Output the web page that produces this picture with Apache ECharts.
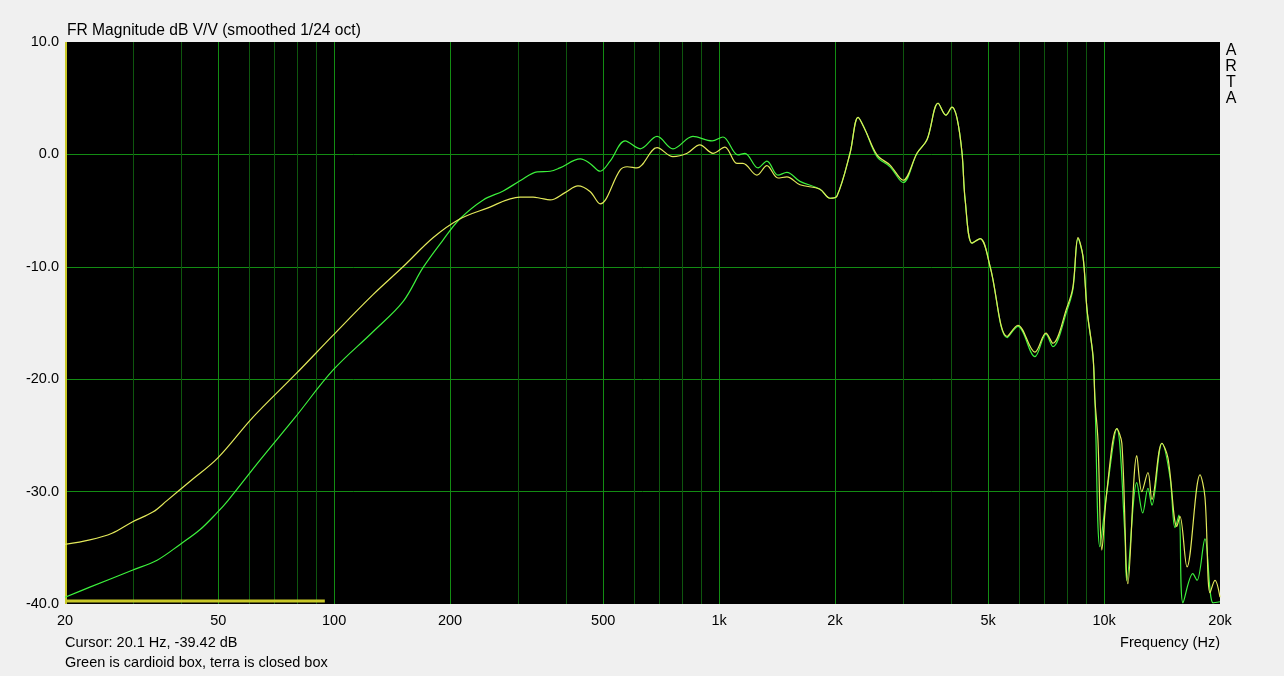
<!DOCTYPE html>
<html>
<head>
<meta charset="utf-8">
<script src="https://cdn.jsdelivr.net/npm/echarts@6/dist/echarts.min.js"></script>
<style>
html,body{margin:0;padding:0;background:#f0f0f0;}
#chart{width:1284px;height:676px;}
</style>
</head>
<body>
<div id="chart"></div>
<script>
// ---- data ----
const cardioidFreq = [20,23.2,29.9,34.7,39.8,44.8,49.6,53,64.2,79.2,99.3,126,151,170,192,212,244,275,304,337,364,386,436,462,491,521,570,624,690,759,855,959,1023,1119,1167,1262,1331,1422,1500,1622,1828,1941,2024,2188,2296,2394,2571,2780,3006,3266,3467,3706,3883,4027,4150,4276,4355,4541,4765,5059,5600,5971,6611,7063,7362,8011,8300,8555,8815,9034,9357,9466,9752,10110,10790,11320,11450,12160,12600,13000,13310,14130,14830,15280,15650,16030,17000,17430,18280,19190,20000];
const cardioidDb = [-39.4,-38.5,-37.0,-36.1,-34.7,-33.4,-31.9,-30.8,-27.2,-23.4,-19.2,-15.8,-13.1,-10.1,-7.6,-5.75,-4.05,-3.25,-2.35,-1.55,-1.5,-1.2,-0.4,-0.8,-1.5,-0.6,1.2,0.5,1.6,0.5,1.6,1.2,1.55,-0.05,0.1,-1.2,-0.6,-1.85,-1.6,-2.4,-3.1,-3.9,-3.7,0.1,3.3,2.2,-0.2,-1.1,-2.5,0.1,1.3,4.55,3.5,4.2,3.2,0.1,-4.0,-7.9,-7.5,-10.0,-16.3,-15.3,-18.0,-16.0,-17.1,-13.9,-12.0,-7.5,-9.1,-13.9,-18.0,-21.8,-34.9,-30.7,-24.4,-33.7,-37.9,-29.2,-31.9,-29.7,-31.2,-25.7,-28.7,-33.2,-32.1,-39.9,-37.3,-37.9,-34.2,-39.9,-39.8];

const closedFreq = [20,23.2,26.5,29.9,33.9,36.8,42.2,49.9,61.5,79.2,99.3,126,151,181,212,249,304,329,343,364,398,430,462,491,553,577,612,690,759,826,891,964,1035,1112,1153,1254,1331,1422,1500,1622,1828,1941,2024,2188,2296,2394,2571,2780,3006,3266,3467,3706,3883,4027,4150,4276,4355,4541,4765,5059,5600,5971,6611,7063,7362,8011,8300,8555,8815,9034,9357,9466,9638,9866,10170,10790,11120,11530,12160,12530,13000,13310,14130,14650,15450,15740,16420,17750,18280,18840,19410,20000];
const closedDb = [-34.7,-34.3,-33.7,-32.7,-31.8,-30.8,-29.1,-27.0,-23.4,-19.6,-16.1,-12.5,-10.0,-7.4,-5.75,-4.8,-3.8,-3.8,-3.9,-4.05,-3.4,-2.8,-3.3,-4.4,-1.4,-1.1,-1.2,0.6,-0.2,0.1,0.85,0.1,0.65,-0.8,-0.8,-1.85,-1.0,-2.1,-2.0,-2.7,-3.1,-3.9,-3.7,0.1,3.3,2.2,-0.05,-0.95,-2.3,0.1,1.3,4.55,3.5,4.2,3.2,0.1,-4.0,-7.9,-7.5,-10.0,-16.2,-15.2,-17.6,-15.9,-16.8,-13.6,-11.8,-7.4,-9.1,-13.9,-17.9,-21.8,-25.4,-35.2,-29.9,-24.4,-25.7,-38.2,-26.8,-30.0,-28.3,-30.7,-25.7,-27.0,-33.1,-32.2,-36.7,-28.5,-30.5,-39.0,-37.9,-39.4];

const cursorBarFreq = [20, 94.6];
const cursorBarDb = [-39.73, -39.73];
const cursorFreq = 20.1;

const xTickValues = [20,50,100,200,500,1000,2000,5000,10000,20000];
const xTickLabels = ['20','50','100','200','500','1k','2k','5k','10k','20k'];
const xMajorGrid = [50,100,200,500,1000,2000,5000,10000];
const xMinorGrid = [30,40,60,70,80,90,300,400,600,700,800,900,3000,4000,6000,7000,8000,9000];
const yMin = -40, yMax = 10, yStep = 10;

const titleText = 'FR Magnitude dB V/V (smoothed 1/24 oct)';
const xAxisTitle = 'Frequency (Hz)';
const cursorText = 'Cursor: 20.1 Hz, -39.42 dB';
const noteText = 'Green is cardioid box, terra is closed box';
const brandText = 'A\nR\nT\nA';

// ---- chart ----
const FONT = '"Liberation Sans", Arial, sans-serif';
const MAJOR = '#138c13', MINOR = '#0e560e', CURSOR = '#c8c828';
const pairs = (xs, ys) => xs.map((x, i) => [x, ys[i]]);
const chart = echarts.init(document.getElementById('chart'), null, {renderer: 'canvas'});

const option = {
  backgroundColor: '#f0f0f0',
  animation: false,
  grid: {left: 65, right: 64, top: 42, bottom: 72, show: true, backgroundColor: '#000', borderWidth: 0},
  xAxis: {
    type: 'log', logBase: 10, min: 20, max: 20000,
    axisLine: {show: false}, axisTick: {show: false}, axisLabel: {show: false}, splitLine: {show: false}
  },
  yAxis: {
    type: 'value', min: yMin, max: yMax, interval: yStep,
    axisLine: {show: false}, axisTick: {show: false},
    axisLabel: {color: '#000', fontSize: 14.5, fontFamily: FONT, margin: 6, formatter: v => v.toFixed(1)},
    splitLine: {show: true, showMinLine: false, showMaxLine: false, lineStyle: {color: MAJOR, width: 1}}
  },
  series: [
    {
      type: 'line', name: 'cardioid', data: pairs(cardioidFreq, cardioidDb),
      showSymbol: false, smooth: 0.35, lineStyle: {color: '#3cf03c', width: 1.2}, z: 3
    },
    {
      type: 'line', name: 'closed', data: pairs(closedFreq, closedDb),
      showSymbol: false, smooth: 0.35, lineStyle: {color: '#e2e85a', width: 1.2}, z: 4
    },
    {
      type: 'line', name: 'cursorbar', data: pairs(cursorBarFreq, cursorBarDb),
      showSymbol: false, lineStyle: {color: CURSOR, width: 3}, z: 5
    }
  ]
};
chart.setOption(option);

// grid lines, tick labels and texts placed through the axis scale
const gridTop = 42, gridBottom = 604, gridRight = 1220, gridLeft = 65;
const txt = (x, y, text, align, vAlign, size, extra) => Object.assign({
  type: 'text', x: x, y: y, silent: true, z: 10,
  style: Object.assign({text: text, fill: '#000', font: size + 'px ' + FONT,
    align: align, textAlign: align, verticalAlign: vAlign, textVerticalAlign: vAlign}, extra || {})
});
const vline = (f, color, width) => {
  const px = Math.round(chart.convertToPixel({xAxisIndex: 0}, f)) + (width % 2 ? 0.5 : 0);
  return {type: 'line', silent: true, z: 1,
    shape: {x1: px, y1: gridTop, x2: px, y2: gridBottom},
    style: {stroke: color, lineWidth: width}};
};
const graphics = [];
xMinorGrid.forEach(f => graphics.push(vline(f, MINOR, 1)));
xMajorGrid.forEach(f => graphics.push(vline(f, MAJOR, 1)));
graphics.push(vline(cursorFreq, CURSOR, 2));
xTickValues.forEach((f, i) => {
  const px = chart.convertToPixel({xAxisIndex: 0}, f);
  graphics.push(txt(px, gridBottom + 17, xTickLabels[i], 'center', 'middle', 14.5));
});
graphics.push(txt(gridLeft + 2, 31, titleText, 'left', 'middle', 15.6));
graphics.push(txt(gridRight, 643, xAxisTitle, 'right', 'middle', 14.5));
graphics.push(txt(gridLeft, 643, cursorText, 'left', 'middle', 14.5));
graphics.push(txt(gridLeft, 663, noteText, 'left', 'middle', 14.5));
graphics.push(txt(1231, 43, brandText, 'center', 'top', 16, {lineHeight: 16}));
chart.setOption({graphic: graphics});
</script>
</body>
</html>
